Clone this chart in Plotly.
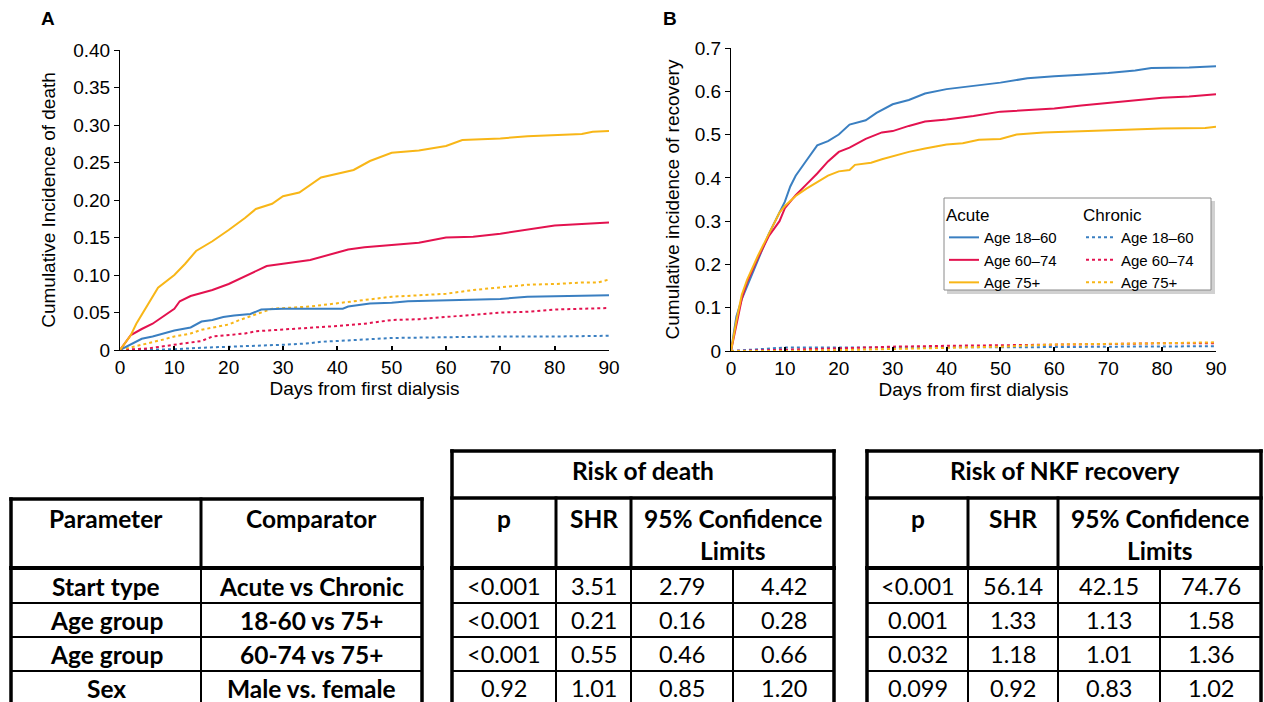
import plotly.graph_objects as go

W, H = 1264, 702
BLUE, RED, YELLOW = "#3a7fc1", "#e3124f", "#f8b617"
PLOT_FONT = "Liberation Sans, Arial, sans-serif"
TABLE_FONT = "Lato, Carlito, Calibri, sans-serif"

# ---------------- Panel A: cumulative incidence of death ----------------
a_ac1860_x = [0, 2, 4, 6, 8, 10, 13, 15, 17, 19, 21, 24, 26, 30, 41, 42, 46, 50, 53, 60, 66, 70, 75, 90]
a_ac1860_y = [0, 0.008, 0.015, 0.018, 0.022, 0.026, 0.030, 0.038, 0.040, 0.044, 0.046, 0.048, 0.054, 0.055,
              0.055, 0.058, 0.062, 0.063, 0.065, 0.066, 0.067, 0.068, 0.071, 0.073]
a_ac6074_x = [0, 2, 4, 6, 8, 10, 11, 13, 15, 17, 20, 22, 25, 27, 30, 35, 40, 42, 45, 50, 55, 60, 65, 70, 75, 80, 85, 90]
a_ac6074_y = [0, 0.020, 0.028, 0.035, 0.045, 0.055, 0.065, 0.072, 0.076, 0.080, 0.088, 0.095, 0.105, 0.112,
              0.115, 0.120, 0.130, 0.134, 0.137, 0.140, 0.143, 0.150, 0.151, 0.155, 0.160, 0.166, 0.168, 0.170]
a_ac75_x = [0, 2, 3, 5, 7, 10, 12, 14, 17, 20, 23, 25, 28, 30, 33, 37, 40, 43, 46, 50, 55, 60, 63, 70, 75, 80, 85, 87, 90]
a_ac75_y = [0, 0.020, 0.035, 0.060, 0.083, 0.100, 0.115, 0.132, 0.145, 0.160, 0.176, 0.188, 0.195, 0.205, 0.210,
            0.230, 0.235, 0.240, 0.252, 0.263, 0.266, 0.272, 0.280, 0.282, 0.285, 0.286, 0.288, 0.291, 0.292]
a_ch1860_x = [0, 10, 15, 20, 25, 30, 35, 37, 40, 45, 50, 60, 70, 80, 85, 90]
a_ch1860_y = [0, 0.001, 0.003, 0.004, 0.005, 0.007, 0.009, 0.011, 0.012, 0.014, 0.016, 0.017, 0.018, 0.018, 0.019, 0.019]
a_ch6074_x = [0, 5, 8, 10, 13, 15, 17, 20, 23, 25, 30, 35, 40, 45, 50, 55, 60, 65, 70, 75, 80, 85, 90]
a_ch6074_y = [0, 0.002, 0.005, 0.007, 0.009, 0.012, 0.018, 0.020, 0.022, 0.025, 0.027, 0.030, 0.032, 0.035,
              0.040, 0.041, 0.044, 0.047, 0.050, 0.051, 0.054, 0.055, 0.056]
a_ch75_x = [0, 3, 6, 8, 10, 13, 15, 17, 20, 22, 25, 28, 35, 40, 45, 50, 55, 60, 65, 70, 75, 80, 85, 88, 90]
a_ch75_y = [0, 0.005, 0.010, 0.014, 0.018, 0.022, 0.027, 0.030, 0.034, 0.040, 0.048, 0.055, 0.058, 0.062,
            0.066, 0.071, 0.073, 0.075, 0.080, 0.083, 0.087, 0.088, 0.090, 0.090, 0.094]

# ---------------- Panel B: cumulative incidence of recovery ----------------
b_ac1860_x = [0, 1, 2, 3, 5, 7, 9, 10, 11, 12, 14, 16, 18, 20, 22, 25, 27, 30, 33, 36, 40, 45, 50, 55, 60, 65,
              70, 75, 78, 85, 90]
b_ac1860_y = [0, 0.08, 0.12, 0.15, 0.21, 0.27, 0.32, 0.345, 0.38, 0.405, 0.44, 0.475, 0.485, 0.50, 0.523, 0.533,
              0.55, 0.57, 0.58, 0.595, 0.605, 0.612, 0.62, 0.63, 0.635, 0.638, 0.642, 0.648, 0.654, 0.655, 0.658]
b_ac6074_x = [0, 1, 2, 3, 5, 7, 9, 10, 12, 14, 16, 18, 20, 22, 25, 28, 30, 33, 36, 40, 45, 50, 55, 60, 65, 70,
              75, 80, 85, 90]
b_ac6074_y = [0, 0.06, 0.12, 0.16, 0.215, 0.265, 0.30, 0.33, 0.36, 0.385, 0.41, 0.438, 0.46, 0.47, 0.49, 0.505,
              0.508, 0.52, 0.53, 0.535, 0.543, 0.553, 0.556, 0.56, 0.567, 0.573, 0.578, 0.585, 0.588, 0.593]
b_ac75_x = [0, 1, 2, 3, 5, 7, 9, 10, 12, 14, 16, 18, 20, 22, 23, 26, 28, 30, 33, 36, 40, 43, 46, 50, 53, 58, 65,
            70, 80, 88, 90]
b_ac75_y = [0, 0.07, 0.13, 0.165, 0.22, 0.27, 0.32, 0.335, 0.358, 0.375, 0.39, 0.405, 0.415, 0.418, 0.43, 0.435,
            0.443, 0.45, 0.46, 0.468, 0.477, 0.48, 0.488, 0.49, 0.50, 0.505, 0.508, 0.511, 0.514, 0.515, 0.518]
b_ch1860_x = [0, 5, 10, 20, 30, 40, 50, 60, 70, 80, 90]
b_ch1860_y = [0, 0.004, 0.008, 0.008, 0.008, 0.009, 0.009, 0.009, 0.010, 0.010, 0.011]
b_ch6074_x = [0, 5, 10, 20, 30, 40, 50, 60, 70, 80, 90]
b_ch6074_y = [0, 0.002, 0.003, 0.006, 0.010, 0.012, 0.013, 0.015, 0.016, 0.018, 0.018]
b_ch75_x = [0, 10, 20, 30, 40, 50, 60, 70, 80, 90]
b_ch75_y = [0, 0.000, 0.002, 0.005, 0.008, 0.010, 0.015, 0.016, 0.018, 0.020]

series_names = ["Age 18\u201360", "Age 60\u201374", "Age 75+"]
series_colors = [BLUE, RED, YELLOW]

# axis ticks
a_ytick_vals = [0, 0.05, 0.10, 0.15, 0.20, 0.25, 0.30, 0.35, 0.40]
a_ytick_text = ["0", "0.05", "0.10", "0.15", "0.20", "0.25", "0.30", "0.35", "0.40"]
b_ytick_vals = [0, 0.1, 0.2, 0.3, 0.4, 0.5, 0.6, 0.7]
b_ytick_text = ["0", "0.1", "0.2", "0.3", "0.4", "0.5", "0.6", "0.7"]
x_ticks = [0, 10, 20, 30, 40, 50, 60, 70, 80, 90]

# ---------------- Tables ----------------
tbl_param = ["Start type", "Age group", "Age group", "Sex"]
tbl_comp = ["Acute vs Chronic", "18-60 vs 75+", "60-74 vs 75+", "Male vs. female"]
death_p = ["<0.001", "<0.001", "<0.001", "0.92"]
death_shr = ["3.51", "0.21", "0.55", "1.01"]
death_lo = ["2.79", "0.16", "0.46", "0.85"]
death_hi = ["4.42", "0.28", "0.66", "1.20"]
rec_p = ["<0.001", "0.001", "0.032", "0.099"]
rec_shr = ["56.14", "1.33", "1.18", "0.92"]
rec_lo = ["42.15", "1.13", "1.01", "0.83"]
rec_hi = ["74.76", "1.58", "1.36", "1.02"]

fig = go.Figure()

groups_a = [(a_ac1860_x, a_ac1860_y), (a_ac6074_x, a_ac6074_y), (a_ac75_x, a_ac75_y)]
groups_a_ch = [(a_ch1860_x, a_ch1860_y), (a_ch6074_x, a_ch6074_y), (a_ch75_x, a_ch75_y)]
groups_b = [(b_ac1860_x, b_ac1860_y), (b_ac6074_x, b_ac6074_y), (b_ac75_x, b_ac75_y)]
groups_b_ch = [(b_ch1860_x, b_ch1860_y), (b_ch6074_x, b_ch6074_y), (b_ch75_x, b_ch75_y)]

for i in range(3):
    fig.add_trace(go.Scatter(x=groups_a_ch[i][0], y=groups_a_ch[i][1], mode="lines", xaxis="x", yaxis="y",
                             line=dict(color=series_colors[i], width=2, dash="dot"), showlegend=False))
for i in range(3):
    fig.add_trace(go.Scatter(x=groups_a[i][0], y=groups_a[i][1], mode="lines", xaxis="x", yaxis="y",
                             line=dict(color=series_colors[i], width=2), showlegend=False))
for i in range(3):
    fig.add_trace(go.Scatter(x=groups_b_ch[i][0], y=groups_b_ch[i][1], mode="lines", xaxis="x2", yaxis="y2",
                             name=series_names[i], legend="legend2",
                             line=dict(color=series_colors[i], width=2, dash="dot")))
for i in range(3):
    fig.add_trace(go.Scatter(x=groups_b[i][0], y=groups_b[i][1], mode="lines", xaxis="x2", yaxis="y2",
                             name=series_names[i], legend="legend",
                             line=dict(color=series_colors[i], width=2)))


def px(x):
    return x / W


def py(y):
    return 1 - y / H


axis_common = dict(showline=True, linecolor="black", linewidth=1, showgrid=False, zeroline=False,
                   automargin=False,
                   tickfont=dict(family=PLOT_FONT, size=19, color="black"), tickcolor="black")

fig.update_layout(
    width=W, height=H, margin=dict(l=0, r=0, t=0, b=0, autoexpand=False),
    paper_bgcolor="white", plot_bgcolor="white",
    font=dict(family=PLOT_FONT, color="black"),
    xaxis=dict(domain=[px(120), px(609)], range=[0, 90], anchor="y", tickvals=x_ticks,
               ticks="inside", ticklen=4, tickwidth=1.5,
               title=dict(text="Days from first dialysis", font=dict(size=19), standoff=4), **axis_common),
    yaxis=dict(domain=[py(350), py(50)], range=[0, 0.40], anchor="x", tickvals=a_ytick_vals,
               ticktext=a_ytick_text, ticks="outside", ticklen=5, tickwidth=1,
               title=dict(text="Cumulative Incidence of death", font=dict(size=19), standoff=12), **axis_common),
    xaxis2=dict(domain=[px(731), px(1216)], range=[0, 90], anchor="y2", tickvals=x_ticks,
                ticks="inside", ticklen=4, tickwidth=1.5,
                title=dict(text="Days from first dialysis", font=dict(size=19), standoff=4), **axis_common),
    yaxis2=dict(domain=[py(351), py(48)], range=[0, 0.7], anchor="x2", tickvals=b_ytick_vals,
                ticktext=b_ytick_text, ticks="outside", ticklen=5, tickwidth=1,
                title=dict(text="Cumulative incidence of recovery", font=dict(size=19), standoff=10), **axis_common),
    legend=dict(x=px(944), y=py(199), xanchor="left", yanchor="top", bgcolor="rgba(0,0,0,0)",
                borderwidth=0, font=dict(family=PLOT_FONT, size=15, color="black"),
                title=dict(text="Acute", font=dict(family=PLOT_FONT, size=17, color="black")), tracegroupgap=0,
                traceorder="normal"),
    legend2=dict(x=px(1081), y=py(199), xanchor="left", yanchor="top", bgcolor="rgba(0,0,0,0)",
                 borderwidth=0, font=dict(family=PLOT_FONT, size=15, color="black"),
                 title=dict(text="Chronic", font=dict(family=PLOT_FONT, size=17, color="black")), tracegroupgap=0,
                 traceorder="normal"),
)

shapes = []
# legend box with shadow
shapes.append(dict(type="rect", xref="paper", yref="paper", x0=px(947), x1=px(1215), y0=py(294), y1=py(201),
                   fillcolor="rgba(0,0,0,0.18)", line=dict(width=0), layer="below"))
shapes.append(dict(type="rect", xref="paper", yref="paper", x0=px(944), x1=px(1211), y0=py(290), y1=py(198),
                   fillcolor="white", line=dict(color="#8a8a8a", width=1), layer="below"))


def hline(x0, x1, y, w):
    shapes.append(dict(type="line", xref="paper", yref="paper", x0=px(x0 - w / 2), x1=px(x1 + w / 2),
                       y0=py(y), y1=py(y), line=dict(color="black", width=w)))


def vline(x, y0, y1, w):
    shapes.append(dict(type="line", xref="paper", yref="paper", x0=px(x), x1=px(x),
                       y0=py(y0 - w / 2), y1=py(y1), line=dict(color="black", width=w)))


BOTTOM = 702
body_rows = [603, 637, 671]
body_centers = [586, 620, 654, 688]

# table 1 (Parameter / Comparator)
t1 = [11, 201, 422]
hline(t1[0], t1[2], 499, 3.5)
hline(t1[0], t1[2], 568, 4)
for yy in body_rows:
    hline(t1[0], t1[2], yy, 2)
vline(t1[0], 499, BOTTOM, 3.5)
vline(t1[2], 499, BOTTOM, 3.5)
vline(t1[1], 499, 568, 3)
vline(t1[1], 568, BOTTOM, 2)

# tables 2 and 3
stat_tables = [
    dict(cols=[452, 556, 631, 733, 834], title="Risk of death", data=[death_p, death_shr, death_lo, death_hi]),
    dict(cols=[867, 968, 1058, 1160, 1261], title="Risk of NKF recovery", data=[rec_p, rec_shr, rec_lo, rec_hi]),
]
annotations = []


def txt(x, y, s, bold=False):
    annotations.append(dict(xref="paper", yref="paper", x=px(x), y=py(y), text=s.replace("<", "&lt;"),
                            showarrow=False, xanchor="center", yanchor="middle",
                            font=dict(family=TABLE_FONT, size=24.5 if bold else 23.5, color="black",
                                      weight="bold" if bold else "normal")))


for t in stat_tables:
    c = t["cols"]
    hline(c[0], c[4], 451, 3.5)
    hline(c[0], c[4], 498, 3.5)
    hline(c[0], c[4], 568, 4)
    for yy in body_rows:
        hline(c[0], c[4], yy, 2)
    vline(c[0], 451, BOTTOM, 3.5)
    vline(c[4], 451, BOTTOM, 3.5)
    vline(c[1], 498, 568, 3)
    vline(c[2], 498, 568, 3)
    for k in (1, 2, 3):
        vline(c[k], 568, BOTTOM, 2)
    txt((c[0] + c[4]) / 2, 470, t["title"], bold=True)
    txt((c[0] + c[1]) / 2, 518, "p", bold=True)
    txt((c[1] + c[2]) / 2, 518, "SHR", bold=True)
    txt((c[2] + c[4]) / 2, 518, "95% Confidence", bold=True)
    txt((c[2] + c[4]) / 2, 550, "Limits", bold=True)
    for j, col in enumerate(t["data"]):
        for r, v in enumerate(col):
            txt((c[j] + c[j + 1]) / 2, body_centers[r], v)

txt((t1[0] + t1[1]) / 2, 518, "Parameter", bold=True)
txt((t1[1] + t1[2]) / 2, 518, "Comparator", bold=True)
for r in range(4):
    txt((t1[0] + t1[1]) / 2, body_centers[r], tbl_param[r], bold=True)
    txt((t1[1] + t1[2]) / 2, body_centers[r], tbl_comp[r], bold=True)

# panel letters
for lx, lab in ((48, "A"), (670, "B")):
    annotations.append(dict(xref="paper", yref="paper", x=px(lx), y=py(18), text=lab, showarrow=False,
                            xanchor="center", yanchor="middle",
                            font=dict(family=PLOT_FONT, size=19, color="black", weight="bold")))

fig.update_layout(shapes=shapes, annotations=annotations)
fig.write_html(
    "out.html",
    config={"displayModeBar": False},
    post_script="document.documentElement.style.margin='0';document.body.style.margin='0';"
                "document.documentElement.style.overflow='hidden';document.body.style.overflow='hidden';",
)
